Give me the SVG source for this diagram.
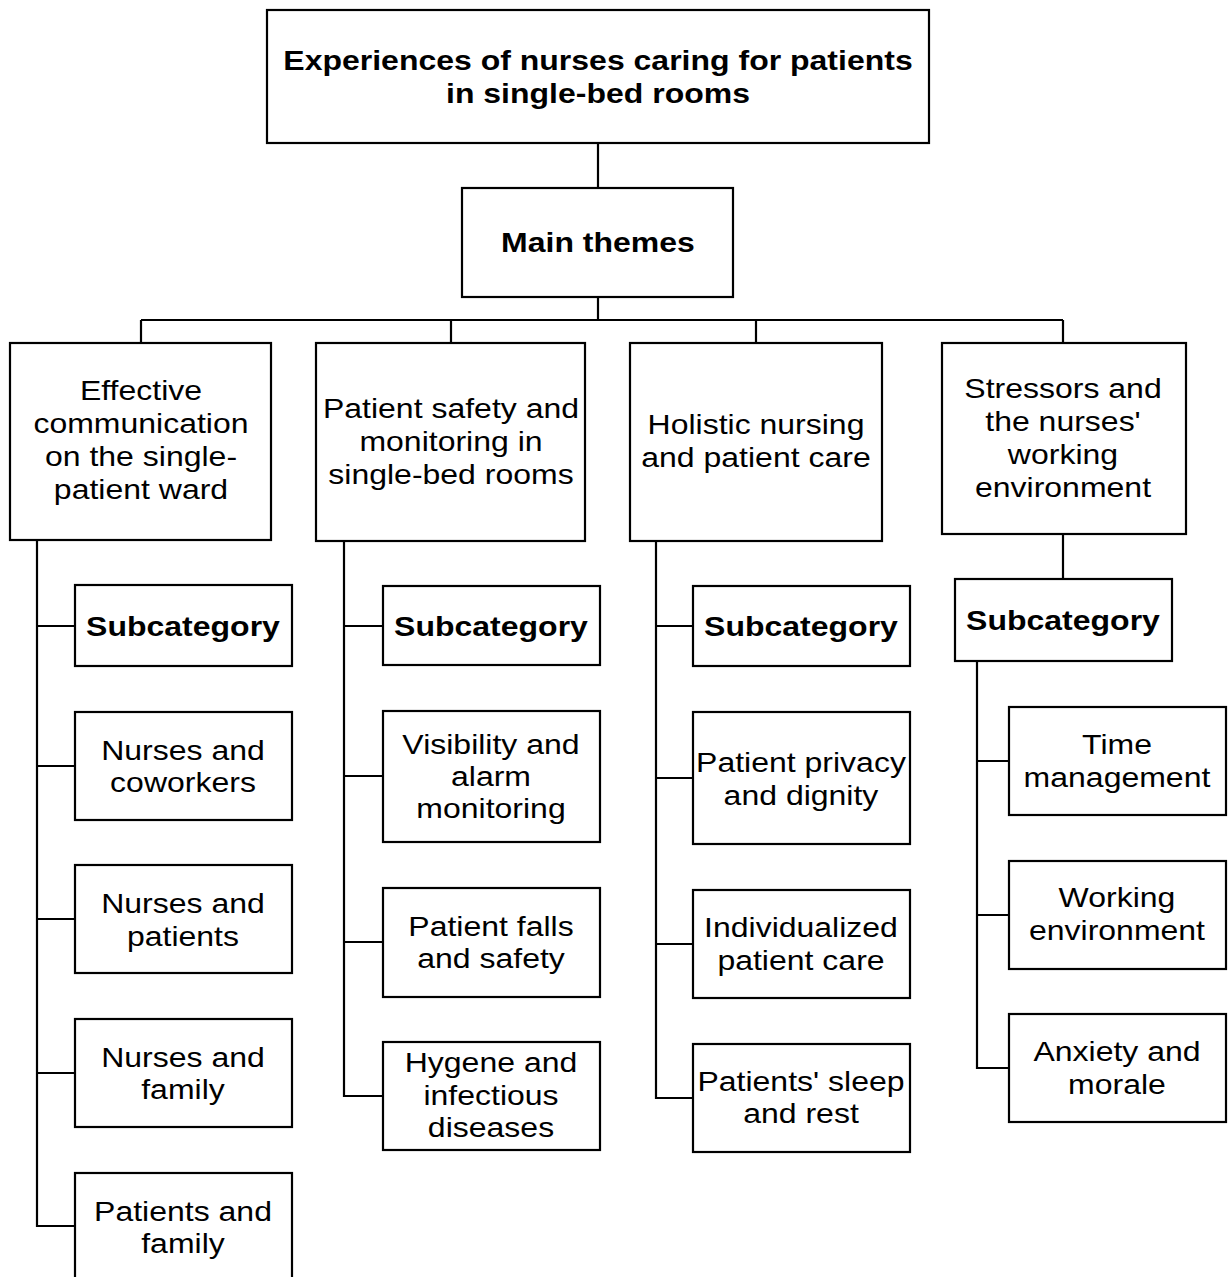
<svg xmlns="http://www.w3.org/2000/svg" width="1228" height="1277" viewBox="0 0 1228 1277">
<style>
rect{fill:#fff;stroke:#000;stroke-width:2.2}
.c path{fill:none;stroke:#000;stroke-width:2.2}
text{font-family:"Liberation Sans",Arial,sans-serif;font-size:27.5px;fill:#000;text-anchor:middle}
.b{font-weight:bold}
</style>
<rect x="0" y="0" width="1228" height="1277" style="stroke:none"/>
<g class="c" id="connectors">
<path d="M598 143V188M598 297V320M141 320H1063M141 320V343M451 320V343M756 320V343M1063 320V343"/>
<path d="M37 540V1226H75M37 626H75M37 766H75M37 919H75M37 1073H75"/>
<path d="M344 541V1096H383M344 626H383M344 776H383M344 942H383"/>
<path d="M656 541V1098H693M656 626H693M656 778H693M656 944H693"/>
<path d="M1063 534V579M977 661V1068H1009M977 761H1009M977 915H1009"/>
</g>
<g id="title"><rect x="267" y="10" width="662" height="133"/><text class="b" transform="translate(598 0) scale(1.1636 1) translate(-598 0)" x="598" y="70">Experiences of nurses caring for patients<tspan x="598" dy="33">in single-bed rooms</tspan></text></g>
<g id="main"><rect x="462" y="188" width="271" height="109"/><text class="b" transform="translate(598 0) scale(1.1636 1) translate(-598 0)" x="598" y="252">Main themes</text></g>
<g id="t1"><rect x="10" y="343" width="261" height="197"/><text transform="translate(141 0) scale(1.1636 1) translate(-141 0)" x="141" y="400">Effective<tspan x="141" dy="33">communication</tspan><tspan x="141" dy="33">on the single-</tspan><tspan x="141" dy="33">patient ward</tspan></text></g>
<g id="t2"><rect x="316" y="343" width="269" height="198"/><text transform="translate(451 0) scale(1.1636 1) translate(-451 0)" x="451" y="418">Patient safety and<tspan x="451" dy="33">monitoring in</tspan><tspan x="451" dy="33">single-bed rooms</tspan></text></g>
<g id="t3"><rect x="630" y="343" width="252" height="198"/><text transform="translate(756 0) scale(1.1636 1) translate(-756 0)" x="756" y="434">Holistic nursing<tspan x="756" dy="33">and patient care</tspan></text></g>
<g id="t4"><rect x="942" y="343" width="244" height="191"/><text transform="translate(1063 0) scale(1.1636 1) translate(-1063 0)" x="1063" y="398">Stressors and<tspan x="1063" dy="33">the nurses'</tspan><tspan x="1063" dy="33">working</tspan><tspan x="1063" dy="33">environment</tspan></text></g>
<g id="s1"><rect x="75" y="585" width="217" height="81"/><text class="b" transform="translate(183 0) scale(1.1636 1) translate(-183 0)" x="183" y="636">Subcategory</text></g>
<g id="s1a"><rect x="75" y="712" width="217" height="108"/><text transform="translate(183 0) scale(1.1636 1) translate(-183 0)" x="183" y="760">Nurses and<tspan x="183" dy="32">coworkers</tspan></text></g>
<g id="s1b"><rect x="75" y="865" width="217" height="108"/><text transform="translate(183 0) scale(1.1636 1) translate(-183 0)" x="183" y="913">Nurses and<tspan x="183" dy="33">patients</tspan></text></g>
<g id="s1c"><rect x="75" y="1019" width="217" height="108"/><text transform="translate(183 0) scale(1.1636 1) translate(-183 0)" x="183" y="1067">Nurses and<tspan x="183" dy="32">family</tspan></text></g>
<g id="s1d"><rect x="75" y="1173" width="217" height="130"/><text transform="translate(183 0) scale(1.1636 1) translate(-183 0)" x="183" y="1221">Patients and<tspan x="183" dy="32">family</tspan></text></g>
<g id="s2"><rect x="383" y="586" width="217" height="79"/><text class="b" transform="translate(491 0) scale(1.1636 1) translate(-491 0)" x="491" y="636">Subcategory</text></g>
<g id="s2a"><rect x="383" y="711" width="217" height="131"/><text transform="translate(491 0) scale(1.1636 1) translate(-491 0)" x="491" y="754">Visibility and<tspan x="491" dy="32">alarm</tspan><tspan x="491" dy="32">monitoring</tspan></text></g>
<g id="s2b"><rect x="383" y="888" width="217" height="109"/><text transform="translate(491 0) scale(1.1636 1) translate(-491 0)" x="491" y="936">Patient falls<tspan x="491" dy="32">and safety</tspan></text></g>
<g id="s2c"><rect x="383" y="1042" width="217" height="108"/><text transform="translate(491 0) scale(1.1636 1) translate(-491 0)" x="491" y="1072">Hygene and<tspan x="491" dy="33">infectious</tspan><tspan x="491" dy="32">diseases</tspan></text></g>
<g id="s3"><rect x="693" y="586" width="217" height="80"/><text class="b" transform="translate(801 0) scale(1.1636 1) translate(-801 0)" x="801" y="636">Subcategory</text></g>
<g id="s3a"><rect x="693" y="712" width="217" height="132"/><text transform="translate(801 0) scale(1.1636 1) translate(-801 0)" x="801" y="772">Patient privacy<tspan x="801" dy="33">and dignity</tspan></text></g>
<g id="s3b"><rect x="693" y="890" width="217" height="108"/><text transform="translate(801 0) scale(1.1636 1) translate(-801 0)" x="801" y="937">Individualized<tspan x="801" dy="33">patient care</tspan></text></g>
<g id="s3c"><rect x="693" y="1044" width="217" height="108"/><text transform="translate(801 0) scale(1.1636 1) translate(-801 0)" x="801" y="1091">Patients' sleep<tspan x="801" dy="32">and rest</tspan></text></g>
<g id="s4"><rect x="955" y="579" width="217" height="82"/><text class="b" transform="translate(1063 0) scale(1.1636 1) translate(-1063 0)" x="1063" y="630">Subcategory</text></g>
<g id="s4a"><rect x="1009" y="707" width="217" height="108"/><text transform="translate(1117 0) scale(1.1636 1) translate(-1117 0)" x="1117" y="754">Time<tspan x="1117" dy="33">management</tspan></text></g>
<g id="s4b"><rect x="1009" y="861" width="217" height="108"/><text transform="translate(1117 0) scale(1.1636 1) translate(-1117 0)" x="1117" y="907">Working<tspan x="1117" dy="33">environment</tspan></text></g>
<g id="s4c"><rect x="1009" y="1014" width="217" height="108"/><text transform="translate(1117 0) scale(1.1636 1) translate(-1117 0)" x="1117" y="1061">Anxiety and<tspan x="1117" dy="33">morale</tspan></text></g>
</svg>
